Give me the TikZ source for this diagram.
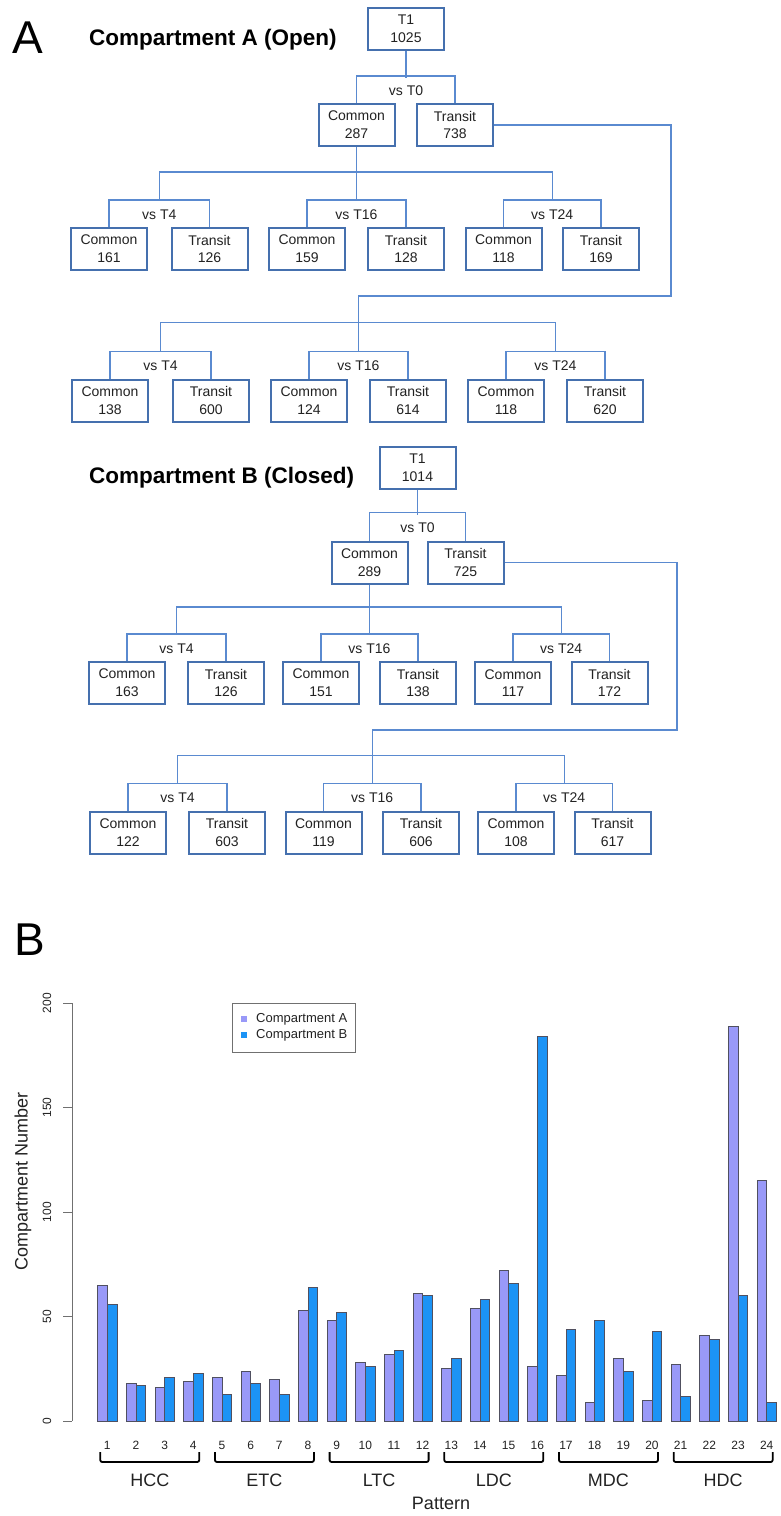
\documentclass[tikz,border=0pt]{standalone}
\usepackage{fontspec}
\setmainfont{Liberation Sans}
\usetikzlibrary{calc}
\definecolor{boxblue}{HTML}{4570AE}
\definecolor{lineblue}{HTML}{5A8AD0}
\definecolor{barA}{HTML}{9999F8}
\definecolor{barB}{HTML}{1C93F5}
\definecolor{bardraw}{HTML}{505060}
\definecolor{txt}{HTML}{222222}
\definecolor{axisgrey}{HTML}{707070}
\begin{document}
\begin{tikzpicture}[x=1pt,y=-1pt,
  box/.style={draw=boxblue,line width=2pt,fill=white,minimum width=76pt,minimum height=42pt,inner sep=0pt,align=center,font=\fontsize{14}{17.7}\selectfont,text=txt},
  conn/.style={draw=lineblue,line width=1.5pt},
  lab/.style={font=\fontsize{14}{16}\selectfont,text=txt,inner sep=0pt},
  title/.style={anchor=west,font=\bfseries\fontsize{22.5}{27}\selectfont,inner sep=0pt},
  panel/.style={anchor=base west,font=\fontsize{46}{46}\selectfont,inner sep=0pt},
  barAst/.style={fill=barA,draw=bardraw,line width=0.6pt},
  barBst/.style={fill=barB,draw=bardraw,line width=0.6pt},
  numlab/.style={font=\fontsize{12}{12}\selectfont,inner sep=0pt,text=txt},
  grplab/.style={font=\fontsize{18}{18}\selectfont,inner sep=0pt,text=txt},
  brace/.style={draw=black,line width=1.8pt,rounded corners=2pt},
  axisst/.style={draw=axisgrey,line width=1pt},
  legtxt/.style={anchor=west,font=\fontsize{13}{13}\selectfont,inner sep=0pt,text=txt}
]
\useasboundingbox (0,0) rectangle (780,1516);

% ---------- Panel A ----------
\node[panel] (pA) at (12,53) {A};
\node[title] (ttA) at (89,40) {Compartment A (Open)};

\node[box] (T1a) at (406,28.5) {T1\\1025};
\node[box] (CA0) at (356.5,125) {Common\\287};
\node[box] (TA0) at (455,125) {Transit\\738};
\node[lab] (vT0a) at (406,91) {vs T0};

\node[box] (a4c) at (109,249) {Common\\161};
\node[box] (a4t) at (209.5,249) {Transit\\126};
\node[box] (a16c) at (307,249) {Common\\159};
\node[box] (a16t) at (406,249) {Transit\\128};
\node[box] (a24c) at (503.5,249) {Common\\118};
\node[box] (a24t) at (601,249) {Transit\\169};
\node[lab] (la4) at (159.25,215) {vs T4};
\node[lab] (la16) at (356.5,215) {vs T16};
\node[lab] (la24) at (552.25,215) {vs T24};

\node[box] (b4c) at (110,400.5) {Common\\138};
\node[box] (b4t) at (211,400.5) {Transit\\600};
\node[box] (b16c) at (309,400.5) {Common\\124};
\node[box] (b16t) at (408,400.5) {Transit\\614};
\node[box] (b24c) at (506,400.5) {Common\\118};
\node[box] (b24t) at (605,400.5) {Transit\\620};
\node[lab] (lb4) at (160.5,366) {vs T4};
\node[lab] (lb16) at (358.5,366) {vs T16};
\node[lab] (lb24) at (555.5,366) {vs T24};

\draw[conn] (T1a.south) -- ++(0,27);
\draw[conn] (CA0.north) -- ++(0,-27) -| (TA0.north);

\coordinate (m4a) at ($(a4c.north)!0.5!(a4t.north)+(0,-27)$);
\coordinate (m16a) at ($(a16c.north)!0.5!(a16t.north)+(0,-27)$);
\coordinate (m24a) at ($(a24c.north)!0.5!(a24t.north)+(0,-27)$);
\draw[conn] (a4c.north) -- ++(0,-27) -| (a4t.north);
\draw[conn] (a16c.north) -- ++(0,-27) -| (a16t.north);
\draw[conn] (a24c.north) -- ++(0,-27) -| (a24t.north);
\draw[conn] (m4a) -- ++(0,-28) -| (m24a);
\draw[conn] (CA0.south) -- (m16a);

\coordinate (m4b) at ($(b4c.north)!0.5!(b4t.north)+(0,-27)$);
\coordinate (m16b) at ($(b16c.north)!0.5!(b16t.north)+(0,-27)$);
\coordinate (m24b) at ($(b24c.north)!0.5!(b24t.north)+(0,-27)$);
\coordinate (ra) at (671,296);
\draw[conn] (b4c.north) -- ++(0,-27) -| (b4t.north);
\draw[conn] (b16c.north) -- ++(0,-27) -| (b16t.north);
\draw[conn] (b24c.north) -- ++(0,-27) -| (b24t.north);
\draw[conn] (m4b) -- ++(0,-29) -| (m24b);
\draw[conn] (TA0.east) -| (ra) -| (m16b);

% ---------- Panel A, compartment B ----------
\node[title] (ttB) at (89,478) {Compartment B (Closed)};

\node[box] (T1b) at (417.5,467.5) {T1\\1014};
\node[box] (CB0) at (369.5,562.5) {Common\\289};
\node[box] (TB0) at (465.5,562.5) {Transit\\725};
\node[lab] (vT0b) at (417.5,528) {vs T0};

\node[box] (c4c) at (127,683) {Common\\163};
\node[box] (c4t) at (226,683) {Transit\\126};
\node[box] (c16c) at (321,683) {Common\\151};
\node[box] (c16t) at (418,683) {Transit\\138};
\node[box] (c24c) at (513,683) {Common\\117};
\node[box] (c24t) at (609.5,683) {Transit\\172};
\node[lab] (lc4) at (176.5,649) {vs T4};
\node[lab] (lc16) at (369.5,649) {vs T16};
\node[lab] (lc24) at (561.25,649) {vs T24};

\node[box] (d4c) at (128,832.5) {Common\\122};
\node[box] (d4t) at (227,832.5) {Transit\\603};
\node[box] (d16c) at (323.5,832.5) {Common\\119};
\node[box] (d16t) at (421,832.5) {Transit\\606};
\node[box] (d24c) at (516,832.5) {Common\\108};
\node[box] (d24t) at (612.5,832.5) {Transit\\617};
\node[lab] (ld4) at (177.5,798) {vs T4};
\node[lab] (ld16) at (372.25,798) {vs T16};
\node[lab] (ld24) at (564.25,798) {vs T24};

\draw[conn] (T1b.south) -- ++(0,25);
\draw[conn] (CB0.north) -- ++(0,-28) -| (TB0.north);

\coordinate (m4c) at ($(c4c.north)!0.5!(c4t.north)+(0,-27)$);
\coordinate (m16c) at ($(c16c.north)!0.5!(c16t.north)+(0,-27)$);
\coordinate (m24c) at ($(c24c.north)!0.5!(c24t.north)+(0,-27)$);
\draw[conn] (c4c.north) -- ++(0,-27) -| (c4t.north);
\draw[conn] (c16c.north) -- ++(0,-27) -| (c16t.north);
\draw[conn] (c24c.north) -- ++(0,-27) -| (c24t.north);
\draw[conn] (m4c) -- ++(0,-27) -| (m24c);
\draw[conn] (CB0.south) -- (m16c);

\coordinate (m4d) at ($(d4c.north)!0.5!(d4t.north)+(0,-27)$);
\coordinate (m16d) at ($(d16c.north)!0.5!(d16t.north)+(0,-27)$);
\coordinate (m24d) at ($(d24c.north)!0.5!(d24t.north)+(0,-27)$);
\coordinate (rb) at (677,730);
\draw[conn] (d4c.north) -- ++(0,-27) -| (d4t.north);
\draw[conn] (d16c.north) -- ++(0,-27) -| (d16t.north);
\draw[conn] (d24c.north) -- ++(0,-27) -| (d24t.north);
\draw[conn] (m4d) -- ++(0,-28) -| (m24d);
\draw[conn] (TB0.east) -| (rb) -| (m16d);

% ---------- Panel B ----------
\node[panel] (pB) at (14,955) {B};

% axis
\draw[axisst] (72,1003) -- (72,1421);
\foreach \v in {0,50,100,150,200}{
  \draw[axisst] (63,{1421-2.09*\v}) -- (72,{1421-2.09*\v});
  \node[numlab,rotate=90] (yt\v) at (47,{1421-2.09*\v}) {\v};
}
\node[rotate=90,font=\fontsize{18}{18}\selectfont,inner sep=0pt,text=txt] (ylab) at (23,1181) {Compartment Number};

% bars
\foreach \i/\a/\b in {1/65/56,2/18/17,3/16/21,4/19/23,5/21/13,6/24/18,7/20/13,8/53/64,
  9/48/52,10/28/26,11/32/34,12/61/60,13/25/30,14/54/58,15/72/66,16/26/184,
  17/22/44,18/9/48,19/30/24,20/10/43,21/27/12,22/41/39,23/189/60,24/115/9}{
  \pgfmathsetmacro\xa{97.7+(\i-1)*28.67}
  \draw[barAst] (\xa,1421) rectangle ({\xa+9.56},{1421-2.09*\a});
  \draw[barBst] ({\xa+9.56},1421) rectangle ({\xa+19.12},{1421-2.09*\b});
  \node[numlab] (xt\i) at ({\xa+9.56},1445) {\i};
}

% braces and group labels
\foreach \g/\name in {0/HCC,1/ETC,2/LTC,3/LDC,4/MDC,5/HDC}{
  \pgfmathsetmacro\L{107.26+(4*\g)*28.67-7}
  \pgfmathsetmacro\R{107.26+(4*\g+3)*28.67+6}
  \draw[brace] (\L,1452) -- (\L,1462) -- (\R,1462) -- (\R,1452);
  \node[grplab] (g\g) at ({(\L+\R)/2},1480) {\name};
}
\node[grplab] (xlab) at (441,1503) {Pattern};

% legend
\draw[draw=axisgrey,line width=0.7pt] (232,1003) rectangle (355,1052);
\fill[barA] (241,1016) rectangle (247,1022);
\fill[barB] (241,1032) rectangle (247,1038);
\node[legtxt] (legA) at (256,1019) {Compartment A};
\node[legtxt] (legB) at (256,1035) {Compartment B};
\end{tikzpicture}
\end{document}
